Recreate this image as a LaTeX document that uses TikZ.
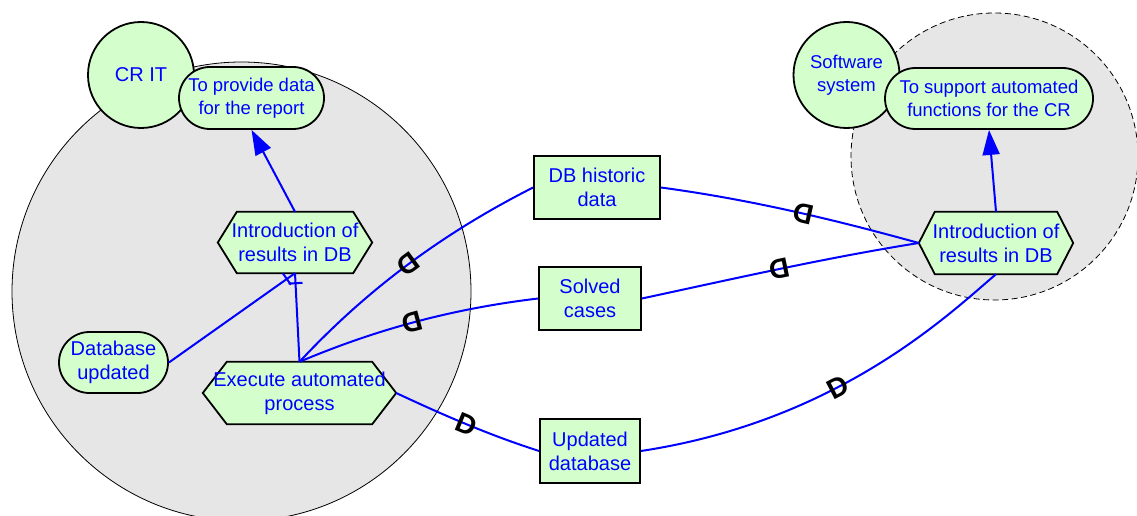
\documentclass[tikz,border=0pt]{standalone}
\usepackage{fontspec}
\setmainfont{Liberation Sans}
\usetikzlibrary{arrows.meta,shapes.misc,decorations.markings}
\definecolor{nodegreen}{RGB}{212,255,204}
\definecolor{areagray}{RGB}{230,230,230}
\pgfdeclarelayer{back}
\pgfdeclarelayer{mid}
\pgfsetlayers{back,mid,main}
\newcommand\hexof[2]{\begin{pgfonlayer}{mid}\draw[hexline] (#1.west) -- ([xshift=#2]#1.north west) -- ([xshift=-#2]#1.north east) -- (#1.east) -- ([xshift=-#2]#1.south east) -- ([xshift=#2]#1.south west) -- cycle;\end{pgfonlayer}}
\newcommand\dmark{\fontsize{28}{28}\selectfont\bfseries D}
\begin{document}
\begin{tikzpicture}[x=1pt,y=-1pt,
  txt/.style={text=blue, align=center, font=\fontsize{20}{24}\selectfont},
  gtxt/.style={text=blue, align=center, font=\fontsize{18.5}{22.5}\selectfont},
  boundary/.style={circle, draw=black, line width=0.8pt, fill=areagray, inner sep=0pt},
  actor/.style={circle, draw=black, line width=1.8pt, fill=nodegreen, minimum size=106pt, inner sep=0pt},
  goal/.style={rounded rectangle, draw=black, line width=1.8pt, fill=nodegreen, inner sep=0pt},
  resource/.style={rectangle, draw=black, line width=1.8pt, fill=nodegreen, inner sep=0pt},
  task/.style={rectangle, inner sep=0pt},
  hexline/.style={draw=black, line width=1.8pt, fill=nodegreen, line join=miter},
  link/.style={draw=blue, line width=2pt},
  dm/.style={sloped, allow upside down, inner sep=0pt, text=black},
  tick/.style={postaction={decorate}, decoration={markings, mark=at position -10pt with {\draw[blue, line width=2pt] (0pt,-7pt) -- (0pt,7pt);}}},
  meansend/.style={link, -{Triangle[length=25pt,width=17pt]}}
]
\useasboundingbox (0,0) rectangle (1137,516);
\begin{pgfonlayer}{back}
\node[boundary, minimum size=459pt] (critb) at (241.5,291.5) {};
\node[boundary, dash pattern=on 6pt off 3.5pt, minimum size=287pt] (swb) at (994.5,156.5) {};
\end{pgfonlayer}

% actors
\node[actor, txt] (crit) at (141,75) {CR IT};
\node[actor, gtxt] (sws) at (846.5,75) {Software\\system};

% goals
\node[goal, gtxt, minimum width=145pt, minimum height=62pt] (g1) at (251.5,98) {To provide data\\for the report};
\node[goal, gtxt, minimum width=208pt, minimum height=61pt] (g2) at (989,98.5) {To support automated\\functions for the CR};
\node[goal, txt, minimum width=109pt, minimum height=61pt] (g3) at (113.5,362.5) {Database\\updated};

% tasks
\node[task, txt, minimum width=154pt, minimum height=61pt] (t1) at (295,242.5) {Introduction of\\results in DB};
\node[task, txt, minimum width=193pt, minimum height=62pt] (t2) at (299.5,393) {Execute automated\\process};
\node[task, txt, minimum width=154pt, minimum height=62pt] (t3) at (996,243) {Introduction of\\results in DB};
\hexof{t1}{19}
\hexof{t2}{24}
\hexof{t3}{16}

% resources
\node[resource, txt, minimum width=126pt, minimum height=63pt] (r1) at (597,187.5) {DB historic\\data};
\node[resource, txt, minimum width=102pt, minimum height=63pt] (r2) at (590,298.5) {Solved\\cases};
\node[resource, txt, minimum width=100pt, minimum height=64pt] (r3) at (590,451) {Updated\\database};

% means-end links
\draw[meansend] (t1.north) -- (g1.south);
\draw[meansend] (t3.north) -- (g2.south);

% decomposition links
\draw[link, tick] (g3.east) -- (t1.south);
\draw[link, tick] (t2.north) -- (t1.south);

% dependencies
\draw[link] (r1.west) .. controls +(-89,45) and +(68,-73) .. node[dm, pos=0.5] {\dmark} (t2.north);
\draw[link] (r2.west) .. controls +(-84,10) and +(78,-33) .. node[dm, pos=0.52] {\dmark} (t2.north);
\draw[link] (t2.east) .. controls +(47,22) and +(-50,-16) .. node[dm, pos=0.5] {\dmark} (r3.west);
\draw[link] (t3.west) .. controls +(-87,-24) and +(89,12) .. node[dm, pos=0.45] {\dmark} (r1.east);
\draw[link] (t3.west) .. controls +(-94,15) and +(93,-20) .. node[dm, pos=0.5] {\dmark} (r2.east);
\draw[link] (r3.east) .. controls +(198,-30) and +(-46,39) .. node[dm, pos=0.4] {\dmark} (t3.south);
\end{tikzpicture}
\end{document}
